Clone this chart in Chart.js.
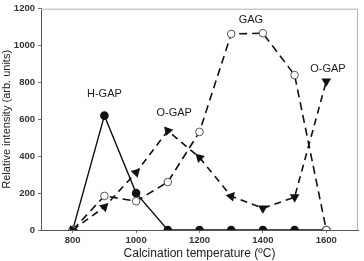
<!DOCTYPE html>
<html>
<head>
<meta charset="utf-8">
<script src="https://cdn.jsdelivr.net/npm/chart.js@4"></script>
<style>
  html, body { margin:0; padding:0; background:#fff; }
  #wrap { width:364px; height:261px; position:relative; }
</style>
</head>
<body>
<div id="wrap"><canvas id="chart" width="364" height="261"></canvas></div>
<script>
// Calcination temperature vs relative intensity

const temps = [800, 900, 1000, 1100, 1200, 1300, 1400, 1500, 1600];
const hGap = [0, 620, 200, 0, 0, 0, 0, 0, 0];
const gag  = [0, 185, 156, 260, 532, 1063, 1067, 840, 0];
const oGap = [0, 125, 312, 538, 393, 183, 118, 178, 807];
const xTicks = [800, 1000, 1200, 1400, 1600];
const yTicks = [0, 200, 400, 600, 800, 1000, 1200];

// text labels placed in data coordinates
const seriesLabels = [
    { text: 'H-GAP', x: 900, y: 735 },
    { text: 'O-GAP', x: 1120, y: 635 },
    { text: 'GAG',   x: 1362, y: 1140 },
    { text: 'O-GAP', x: 1605, y: 872 }
];

// arrowheads roughly follow the line
const oGapRot = [-150, 45, 45, -40, -45, -80, 180, 180, 180];

const toXY = arr => arr.map((v, i) => ({ x: temps[i], y: v }));

const labelPlugin = {
    id: 'seriesLabels',
    afterDatasetsDraw(chart){
        const ctx = chart.ctx;
        const xs = chart.scales.x, ys = chart.scales.y;
        ctx.save();
        ctx.font = '11px "Liberation Sans", Arial, sans-serif';
        ctx.fillStyle = '#1a1a1a';
        ctx.textAlign = 'center';
        ctx.textBaseline = 'middle';
        seriesLabels.forEach(l => {
            ctx.fillText(l.text, xs.getPixelForValue(l.x), ys.getPixelForValue(l.y));
        });
        ctx.restore();
    }
};

const frame = {
    id: 'frame',
    beforeDatasetsDraw(chart){
        const a = chart.chartArea, ctx = chart.ctx;
        ctx.save();
        ctx.strokeStyle = '#b0b0b0';
        ctx.lineWidth = 1;
        ctx.beginPath();
        ctx.moveTo(a.left, a.top + 0.5);
        ctx.lineTo(a.right - 0.5, a.top + 0.5);
        ctx.lineTo(a.right - 0.5, a.bottom);
        ctx.stroke();
        ctx.restore();
    }
};

const fam = '"Liberation Sans", Arial, sans-serif';
const tickFont = { family: fam, size: 9.5, weight: 'bold' };

new Chart(document.getElementById('chart'), {
    type: 'line',
    data: {
        datasets: [
            {
                label: 'O-GAP', data: toXY(oGap),
                borderColor: '#111', borderWidth: 1.6, borderDash: [7, 5],
                pointStyle: 'triangle', pointRadius: 4, pointRotation: oGapRot,
                pointBackgroundColor: '#111', pointBorderColor: '#111'
            },
            {
                label: 'GAG', data: toXY(gag),
                borderColor: '#111', borderWidth: 1.6, borderDash: [8, 5],
                pointStyle: 'circle', pointRadius: 3.8,
                pointBackgroundColor: '#fff', pointBorderColor: '#555', pointBorderWidth: 1
            },
            {
                label: 'H-GAP', data: toXY(hGap),
                borderColor: '#111', borderWidth: 1.4,
                pointStyle: 'circle', pointRadius: 3.6,
                pointBackgroundColor: '#111', pointBorderColor: '#111'
            }
        ]
    },
    options: {
        responsive: false,
        animation: false,
        layout: { padding: { top: 7, right: 6, left: 0, bottom: 0 } },
        plugins: { legend: { display: false }, tooltip: { enabled: false } },
        scales: {
            x: {
                type: 'linear', min: 700, max: 1700,
                afterBuildTicks: s => { s.ticks = xTicks.map(v => ({ value: v })); },
                afterFit: s => { s.height = 31; },
                border: { color: '#555', width: 1 },
                grid: { drawOnChartArea: false, tickLength: 3, color: '#777' },
                ticks: { color: '#333', font: tickFont, padding: 2, maxRotation: 0,
                         callback: v => String(v) },
                title: { display: true, text: 'Calcination temperature (ºC)', color: '#222',
                         font: { family: fam, size: 12 }, padding: { top: 0, bottom: 0 } }
            },
            y: {
                min: 0, max: 1200,
                afterBuildTicks: s => { s.ticks = yTicks.map(v => ({ value: v })); },
                afterFit: s => { s.width = 41; },
                border: { color: '#555', width: 1 },
                grid: { drawOnChartArea: false, tickLength: 3, color: '#777' },
                ticks: { color: '#333', font: tickFont, padding: 3, callback: v => String(v) },
                title: { display: true, text: 'Relative intensity (arb. units)', color: '#222',
                         font: { family: fam, size: 11 }, padding: { top: 0, bottom: 2 } }
            }
        }
    },
    plugins: [frame, labelPlugin]
});
</script>
</body>
</html>
